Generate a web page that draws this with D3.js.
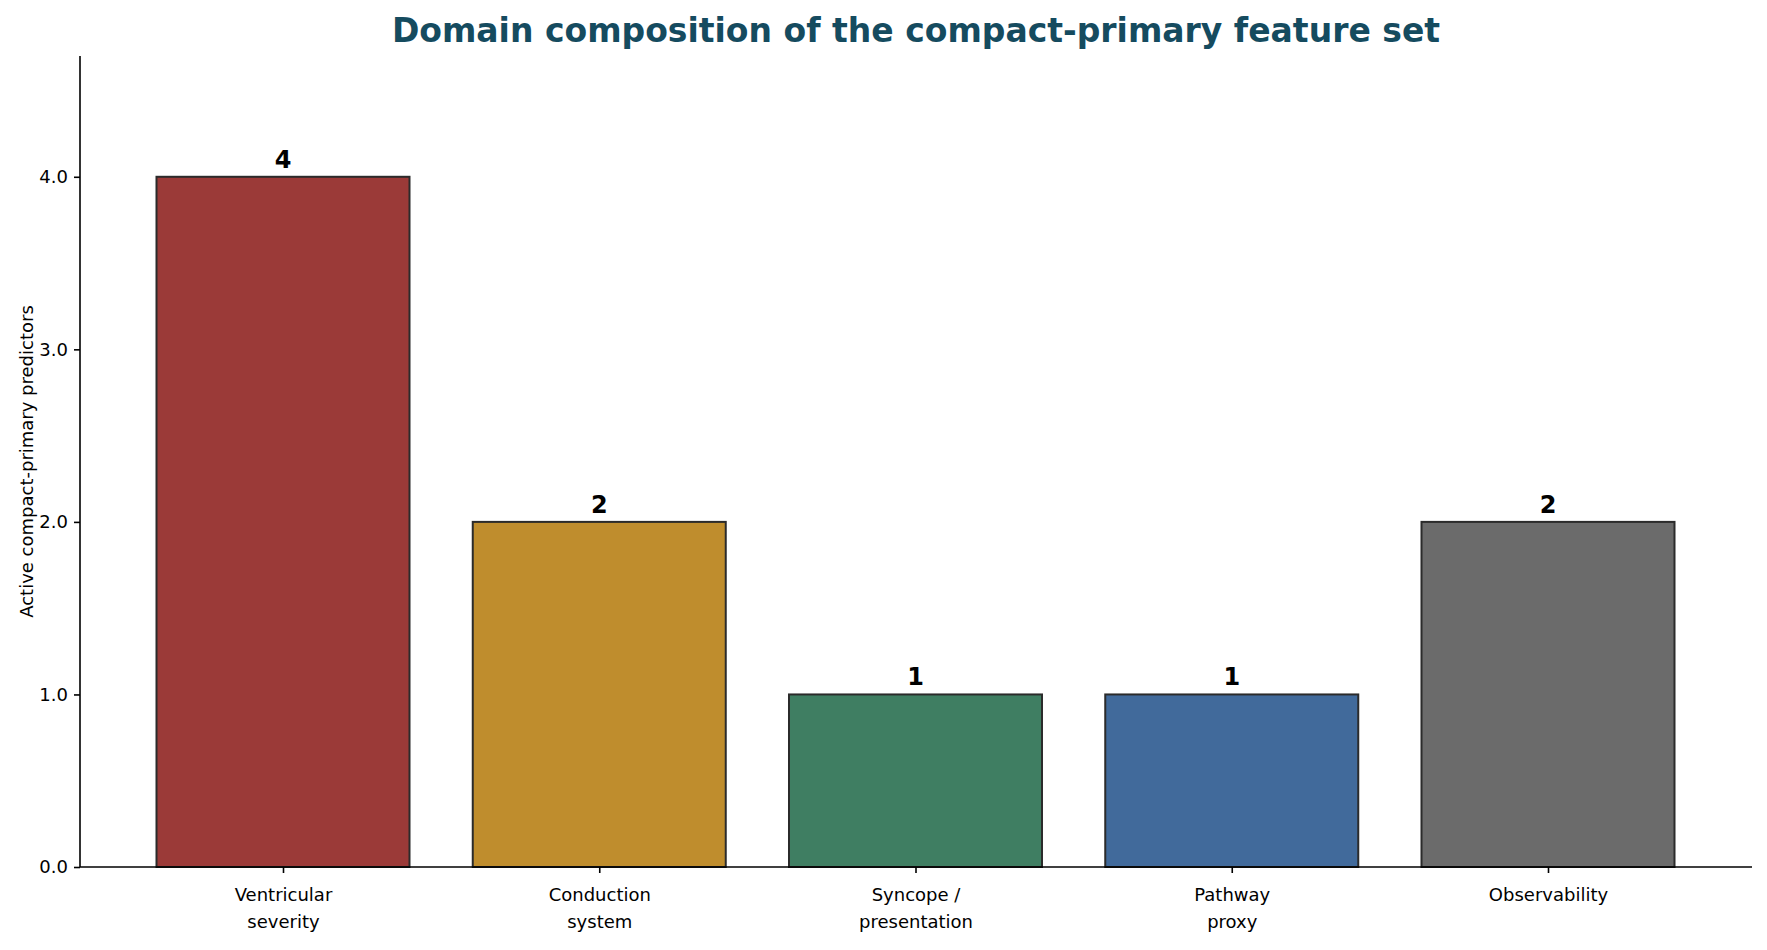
<!DOCTYPE html>
<html><head><meta charset="utf-8">
<script src="https://cdn.jsdelivr.net/npm/d3@7"></script>
<style>body{margin:0;background:#fff}text{font-family:"DejaVu Sans",sans-serif}</style>
</head><body>
<svg width="1767" height="950"></svg>
<script>
const categories = [["Ventricular","severity"],["Conduction","system"],["Syncope /","presentation"],["Pathway","proxy"],["Observability"]]
const counts = [4, 2, 1, 1, 2]
const colors = ["#9b3a38","#bf8d2d","#3f7e62","#416a9b","#6b6b6b"]
const yTicks = [0, 1, 2, 3, 4]

const svg = d3.select('svg')
const mLeft = 80, mRight = 1752, mTop = 56, mBottom = 867

const x = d3.scaleLinear().domain([0, 4]).range([283, 1548])
const bw = (x(1) - x(0)) * 0.8
const y = d3.scaleLinear().domain([0, 4.7]).range([mBottom, mTop])

svg.append('text').attr('x', (mLeft + mRight) / 2).attr('y', 42).attr('text-anchor', 'middle')
  .attr('font-size', 33).attr('font-weight', 'bold').attr('fill', '#154b5f')
  .text('Domain composition of the compact-primary feature set')

svg.selectAll('rect.bar').data(counts).enter().append('rect')
  .attr('x', (d, i) => x(i) - bw / 2).attr('y', d => y(d))
  .attr('width', bw).attr('height', d => y(0) - y(d))
  .attr('fill', (d, i) => colors[i]).attr('stroke', '#2b2b2b').attr('stroke-width', 2)

svg.selectAll('text.val').data(counts).enter().append('text')
  .attr('x', (d, i) => x(i)).attr('y', d => y(d) - 9).attr('text-anchor', 'middle')
  .attr('font-size', 24).attr('font-weight', 'bold').text(d => d)

const yAxis = svg.append('g').attr('transform', `translate(${mLeft},0)`)
  .call(d3.axisLeft(y).tickValues(yTicks).tickSize(6).tickPadding(6))
yAxis.select('.domain').attr('d', `M0,${mBottom}V${mTop}`)
yAxis.selectAll('line,path').attr('stroke', '#000').attr('stroke-width', 1.6)
yAxis.selectAll('text').attr('font-size', 18).attr('font-family', 'DejaVu Sans').attr('fill', '#000')

const xAxis = svg.append('g').attr('transform', `translate(0,${mBottom})`)
  .call(d3.axisBottom(x).tickValues(d3.range(5)).tickSize(6).tickFormat(''))
xAxis.select('.domain').attr('d', `M${mLeft},0H${mRight}`)
xAxis.selectAll('line,path').attr('stroke', '#000').attr('stroke-width', 1.6)
xAxis.selectAll('.tick').append('text').attr('fill', '#000').attr('font-size', 18)
  .attr('font-family', 'DejaVu Sans').attr('text-anchor', 'middle')
  .selectAll('tspan').data(i => categories[i]).enter().append('tspan')
  .attr('x', 0).attr('y', (d, j) => 34 + j * 27).text(d => d)

svg.append('text').attr('transform', `translate(33,${(mTop + mBottom) / 2}) rotate(-90)`)
  .attr('text-anchor', 'middle').attr('font-size', 18).text('Active compact-primary predictors')
</script>
</body></html>
